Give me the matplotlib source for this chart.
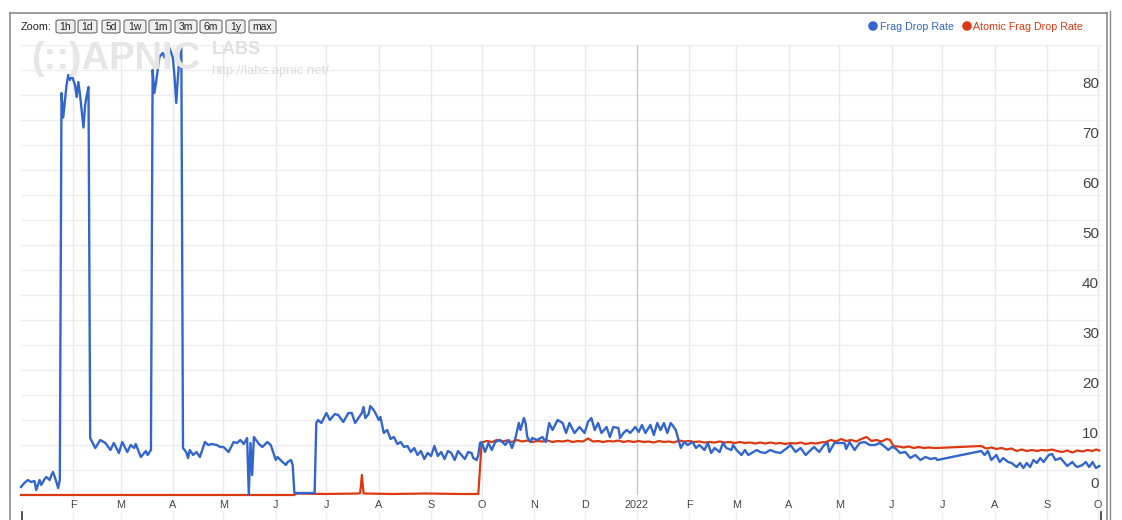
import numpy as np
import matplotlib
matplotlib.use("Agg")
import matplotlib.pyplot as plt
import matplotlib.dates as mdates
import matplotlib.transforms as mtransforms
from matplotlib.patches import FancyBboxPatch, Ellipse
from matplotlib.lines import Line2D

# ---------------- data ----------------
start_date = "2021-01-01"

# days since start_date / Frag Drop Rate (%)
frag_days = [
    0, 2, 4, 6, 8, 9, 11, 12, 14, 15, 17, 18, 19, 20, 21, 22, 23,
    24, 25, 27, 28, 29, 30, 32, 33, 34, 35, 37, 38, 39, 40,
    41, 44, 47, 50, 53, 55, 58, 60, 63, 65, 67, 68, 71, 74, 75, 77,
    78, 79, 80, 81, 82, 84, 85, 87, 88, 90, 91, 92, 93, 94, 95,
    96, 98, 99, 100, 102, 104, 106, 109, 111, 113, 116, 118, 120, 123, 126, 128, 130, 132, 134,
    135, 136, 137, 138, 141, 143, 146, 148, 149, 151, 152, 155, 157, 158, 160, 161,
    162, 168, 174,
    175, 176, 178, 181, 183, 186, 188, 191, 194, 196, 198, 200, 202, 203, 204, 206, 207, 209, 210, 212,
    213, 215, 217, 219, 221, 223, 225, 227, 229, 231, 233, 235, 237, 239, 241, 243, 245, 247, 249, 251,
    253, 255, 257, 259, 261, 263, 265, 267, 268, 270, 271, 272,
    273, 275, 277, 279, 281, 284, 287, 289, 291, 293, 295, 296, 298, 299, 300, 302, 303, 306, 309, 311,
    313, 315, 318, 321, 323, 325, 328, 331, 334, 336, 338, 340, 342, 344, 347, 349, 351, 354, 355, 357,
    359, 361, 364, 366, 368, 370, 373, 375, 377, 379, 381, 383, 385, 386, 388,
    391, 393, 395, 398, 400, 402, 405, 407, 409, 411, 414, 416, 418, 421, 422, 424, 427, 429, 431, 434,
    436, 438, 441, 444, 447,
    450, 454, 456, 459, 462, 465, 468, 470, 473, 476, 478, 479, 482, 485, 488, 489, 491, 494, 497, 500,
    503, 506, 509, 512, 514, 516, 518, 521, 524, 527, 530, 533, 536, 539, 542, 543,
    569, 571, 573, 575, 578, 580, 582, 585, 587, 590, 592, 594, 596, 598, 600, 602, 604, 606, 609, 611,
    613, 616, 618, 620, 623, 625, 626, 629, 631, 633, 635, 637, 639,
]
frag_rate = [
    1.6, 2.4, 3.0, 2.6, 2.8, 1.0, 3.0, 2.0, 3.2, 3.6, 3.0, 4.0, 4.6, 3.6, 2.6, 1.4, 3.0,
    80.4, 75.5, 82, 84, 83, 84, 82, 79.6, 82.6, 80, 73.5, 78, 80, 81.6,
    11.4, 9.4, 11, 10.4, 9, 10.4, 8.4, 10.6, 8.6, 10.0, 9.4, 10.2, 7.6, 8.8, 8.0, 9.0,
    85, 80.4, 82.4, 85, 87.6, 88.4, 87.5, 89, 89.4, 87.4, 83.6, 78.4, 83.6, 88, 90,
    9.4, 8.5, 7.4, 9, 8, 8.6, 7.6, 10.6, 10.0, 10.2, 10.0, 9.6, 9.6, 8.6, 10.6, 10.4, 11, 10.2, 11.4,
    0, 10.4, 4.0, 11.6, 10.2, 9.6, 10.6, 10, 9, 7, 7.6, 6.6, 6, 6.6, 7, 6,
    0.4, 0.4, 0.4,
    14.4, 15, 14.4, 16.4, 15, 16.2, 16, 14.6, 16.4, 16.4, 14.4, 15.4, 16.4, 17.6, 15.4, 16.2, 17.8, 17, 16.4, 15,
    15.6, 12.4, 13, 11.2, 11.6, 10.2, 10.6, 9.6, 9.8, 8.6, 9.4, 8.0, 8.8, 7.2, 8.4, 7.8, 9.8, 7.8, 8.6, 7.2,
    8.8, 8.4, 7.0, 8.8, 8.0, 7.2, 8.6, 8.4, 7.4, 7.0, 8.0, 10.4,
    10.6, 8.6, 10.4, 9, 10.6, 11, 10, 11, 9.4, 11.4, 14.4, 13, 15.4, 14.4, 11.6, 10.6, 11.4, 11, 11.6, 10.6,
    14.4, 13, 15, 14.4, 12.4, 14.4, 12.4, 13.6, 12.4, 14.6, 15.4, 13, 14.4, 12.4, 13.6, 11.6, 13.6, 13.4, 11.4, 12.4,
    13, 12.4, 13.6, 12.6, 14, 12.4, 14, 12, 14.4, 13, 14.4, 12.4, 14.4, 14, 13,
    9.4, 10.6, 10, 10.6, 9.4, 10, 9, 10.4, 8.4, 9.4, 8.6, 10.4, 9.4, 9, 10, 9, 8, 9, 8, 8.6,
    9, 8.6, 8.4, 9, 8.6,
    8.4, 9.4, 10, 8.6, 9.4, 8, 9, 9.6, 8.6, 10, 10.4, 8.6, 10.4, 10.4, 10.4, 9.2, 10.6, 9, 10.4, 10.6,
    10, 10, 10.4, 9.6, 9, 9.6, 9.4, 8.4, 8.6, 7.4, 8, 7, 7.6, 7.2, 7.4, 7,
    8.8, 8, 8.8, 7, 8, 6.6, 7.4, 6.6, 6.4, 5.6, 6.4, 5.4, 6.4, 5.6, 7, 6.4, 7.4, 6.6, 8, 8.2,
    7, 7.4, 6.6, 5.8, 6.6, 5.8, 5.6, 6, 6.6, 5.6, 6.6, 5.4, 5.8,
]

# days since start_date / Atomic Frag Drop Rate (%)
atomic_days = [
    0, 162, 163, 180, 200, 201, 202, 203, 220, 240, 260, 271,
    273, 276, 279, 282, 285, 288, 291, 294, 297, 300, 303, 306, 309, 312, 315, 318, 321, 324, 327, 330,
    333, 336, 339, 342, 345, 348, 351, 354, 357, 360, 363, 366, 369, 372, 375, 378, 381, 384, 387, 390,
    393, 396, 399, 402, 405, 408, 411, 414, 417, 420, 423, 426, 429, 432, 435, 438, 441, 444, 447, 450,
    453, 456, 459, 462, 465, 468, 471, 474, 477, 480, 483, 486, 489, 492, 495, 498, 501, 504, 507, 510,
    513, 515, 517, 520, 523, 526, 529, 532, 535, 538, 541, 543,
    569, 572, 575, 578, 581, 584, 587, 590, 593, 596, 599, 602, 605, 608, 611, 614, 617, 620, 623, 626,
    629, 632, 635, 637, 639,
]
atomic_rate = [
    0, 0, 0.3, 0.2, 0.3, 0.4, 4.0, 0.3, 0.2, 0.3, 0.2, 0.2,
    10.5, 10.8, 10.6, 11.0, 10.7, 10.9, 10.6, 11.0, 10.7, 10.9, 10.6, 10.8, 10.7, 10.9, 10.6, 10.8, 10.7, 10.9, 10.6, 10.8,
    10.7, 11.3, 10.7, 10.8, 10.6, 10.8, 10.7, 10.9, 10.6, 10.8, 10.6, 10.8, 10.6, 10.7, 10.5, 10.8, 10.6, 10.7, 10.5, 10.9,
    10.7, 10.8, 10.6, 10.7, 10.5, 10.6, 10.5, 10.7, 10.5, 10.6, 10.4, 10.6, 10.4, 10.5, 10.3, 10.5, 10.3, 10.5, 10.3, 10.4,
    10.2, 10.4, 10.3, 10.5, 10.2, 10.4, 10.3, 10.5, 10.6, 11.0, 10.7, 11.2, 10.8, 11.0, 10.7, 11.2, 11.6, 10.8, 11.0, 10.7,
    11.2, 11.0, 9.8, 9.7, 9.5, 9.7, 9.4, 9.6, 9.4, 9.5, 9.4, 9.4,
    9.8, 9.3, 9.5, 9.2, 9.4, 9.1, 9.3, 8.8, 9.1, 8.8, 9.0, 8.8, 9.0, 8.9, 9.1, 8.8, 8.6, 8.9, 8.5, 8.9,
    8.7, 9.0, 8.8, 9.1, 8.9,
]

y_ticks = [0, 10, 20, 30, 40, 50, 60, 70, 80]
month_starts = ["2021-02-01", "2021-03-01", "2021-04-01", "2021-05-01", "2021-06-01",
                "2021-07-01", "2021-08-01", "2021-09-01", "2021-10-01", "2021-11-01",
                "2021-12-01", "2022-01-01", "2022-02-01", "2022-03-01", "2022-04-01",
                "2022-05-01", "2022-06-01", "2022-07-01", "2022-08-01", "2022-09-01",
                "2022-10-01"]
month_labels = ["F", "M", "A", "M", "J", "J", "A", "S", "O", "N", "D", "2022",
                "F", "M", "A", "M", "J", "J", "A", "S", "O"]
zoom_buttons = ["1h", "1d", "5d", "1w", "1m", "3m", "6m", "1y", "max"]
series_names = ["Frag Drop Rate", "Atomic Frag Drop Rate"]

assert len(frag_days) == len(frag_rate)
assert len(atomic_days) == len(atomic_rate)

# ---------------- style ----------------
W, H = 1122, 520
BLUE = "#3366cc"
RED = "#dc3912"
GRID = "#ededf2"
TXT = "#444444"

fig = plt.figure(figsize=(W / 100, H / 100), dpi=100)
fig.patch.set_facecolor("white")


def fx(x):
    return x / W


def fy(y):
    return 1 - y / H


ax = fig.add_axes([fx(21), fy(495), (1102 - 21) / W, (495 - 45) / H])
ax.set_facecolor("none")
for s in ax.spines.values():
    s.set_visible(False)
ax.set_xticks([])
ax.set_yticks([])

base = np.datetime64(start_date)
x0 = mdates.date2num(base)


def to_num(days):
    d = base + np.array(days, dtype="timedelta64[D]")
    return mdates.date2num(d)


ax.set_xlim(x0, x0 + 640.6)
ax.set_ylim(0, 90)

# grid
for v in range(5, 91, 5):
    ax.axhline(v, color=GRID, lw=1.0, zorder=0)
month_nums = mdates.date2num(np.array(month_starts, dtype="datetime64[D]"))
for m, lab in zip(month_nums, month_labels):
    col = "#c9c9cc" if lab == "2022" else "#e9e9ee"
    ax.axvline(m, color=col, lw=1.0, zorder=0)

# watermark
fig.text(fx(31), fy(59), "(::)APNIC", fontsize=27.5, fontweight="bold",
         family="Liberation Sans", color="#e6e6e6", va="center", ha="left", zorder=0)
fig.text(fx(212), fy(50), "LABS", fontsize=13, fontweight="bold",
         family="Liberation Sans", color="#e0e0e0", va="center", ha="left", zorder=0)
fig.text(fx(211), fy(71), "http://labs.apnic.net/", fontsize=9.5,
         family="Liberation Sans", color="#dcdcdc", va="center", ha="left", zorder=0)

# series
ax.plot(to_num(atomic_days), atomic_rate, color=RED, lw=1.6, zorder=3,
        solid_joinstyle="round", clip_on=False)
ax.plot(to_num(frag_days), frag_rate, color=BLUE, lw=1.7, zorder=4,
        solid_joinstyle="round", clip_on=False)

# y labels (right, inside)
ytrans = mtransforms.blended_transform_factory(fig.transFigure, ax.transData)
ytrans = mtransforms.offset_copy(ytrans, fig=fig, x=0, y=11, units="dots")
for v in y_ticks:
    fig.text(fx(1099), v, str(v), transform=ytrans, ha="right", va="center",
             fontsize=11, family="Liberation Sans", color=TXT, zorder=5)

# month labels
xtrans = mtransforms.blended_transform_factory(ax.transData, fig.transFigure)
for m, lab in zip(month_nums, month_labels):
    ax.text(m, fy(505), lab, transform=xtrans, ha="center", va="center",
            fontsize=7.8, family="Liberation Sans", color=TXT,
            bbox=dict(facecolor="white", edgecolor="none", pad=0.5))
    ax.plot([m, m], [fy(495), fy(520)], transform=xtrans, color=GRID, lw=1.0,
            clip_on=False, zorder=0)

# small range marks at the ends
for px in (22, 1101):
    fig.add_artist(Line2D([fx(px), fx(px)], [fy(512), fy(520)], color="#333333", lw=1.2))

# frame
fig.add_artist(Line2D([fx(10), fx(10)], [fy(13), fy(520)], color="#8a8a8a", lw=1.2))
fig.add_artist(Line2D([fx(10), fx(1107)], [fy(13), fy(13)], color="#8a8a8a", lw=1.2))
fig.add_artist(Line2D([fx(1107), fx(1107)], [fy(13), fy(520)], color="#8a8a8a", lw=1.2))
fig.add_artist(Line2D([fx(1110), fx(1110)], [fy(11), fy(520)], color="#8a8a8a", lw=1.0))

# zoom controls
fig.text(fx(21), fy(26.5), "Zoom:", fontsize=7.8, family="Liberation Sans",
         color="#222222", va="center", ha="left")
btn_x = [56, 78, 102, 124, 149, 175, 200, 226, 249]
btn_w = [19, 19, 18, 22, 22, 22, 22, 19, 27]
for lab, bx, bw in zip(zoom_buttons, btn_x, btn_w):
    p = FancyBboxPatch((fx(bx), fy(33)), fx(bw), (33 - 20) / H,
                       boxstyle="round,pad=0,rounding_size=0.003",
                       transform=fig.transFigure, facecolor="#efefef",
                       edgecolor="#6a6a6a", lw=0.8)
    fig.add_artist(p)
    fig.text(fx(bx + bw / 2), fy(26.5), lab, fontsize=7.5, family="Liberation Sans",
             color="#222222", va="center", ha="center")

# legend
for cx, tx, name, col in [(873, 880, series_names[0], BLUE),
                          (967, 973, series_names[1], RED)]:
    fig.add_artist(Ellipse((fx(cx), fy(26)), 9.5 / W, 9.5 / H,
                           transform=fig.transFigure, facecolor=col, edgecolor="none"))
    fig.text(fx(tx), fy(26.5), name, fontsize=7.7, family="Liberation Sans",
             color=col, va="center", ha="left")

fig.savefig("out.png", dpi=100, facecolor="white")
